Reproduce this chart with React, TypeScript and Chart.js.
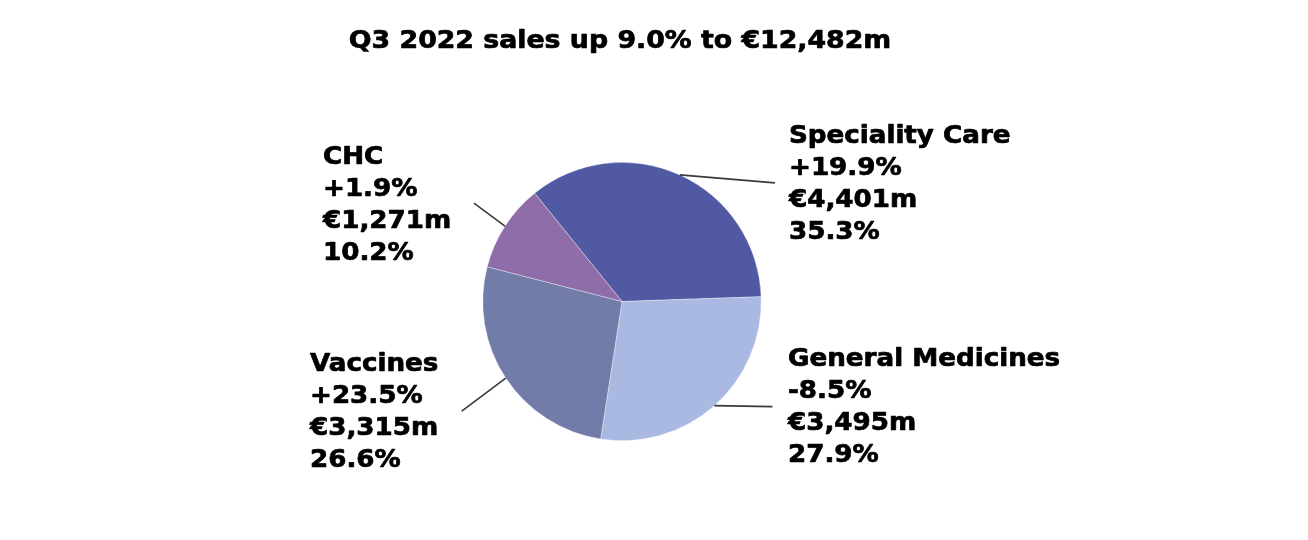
import React, { useEffect, useRef } from "react";
import { Chart, registerables } from "chart.js";

Chart.register(...registerables);

const chartTitle = "Q3 2022 sales up 9.0% to €12,482m";
const categories = ["Speciality Care", "General Medicines", "Vaccines", "CHC"];
const salesMillions = [4401, 3495, 3315, 1271];
const growthLabels = ["+19.9%", "-8.5%", "+23.5%", "+1.9%"];
const salesLabels = ["€4,401m", "€3,495m", "€3,315m", "€1,271m"];
const shareLabels = ["35.3%", "27.9%", "26.6%", "10.2%"];
const sliceColors = ["#5059A2", "#AAB9E1", "#717DA8", "#8F6DA9"];

// label placement (style only): leader-line end offset from slice edge, text anchor
const leaderOffsets = [
  [95, 8],
  [58, 1],
  [-44, 33],
  [-31, -23],
];
const textAnchors = [
  [789, 143],
  [788, 366],
  [310, 371],
  [323, 164],
];

const FONT = '"DejaVu Sans", Verdana, sans-serif';

function wideText(ctx: CanvasRenderingContext2D, t: string, x: number, y: number, sx: number) {
  ctx.save();
  ctx.translate(x, y);
  ctx.scale(sx, 1);
  ctx.lineWidth = 0.7;
  ctx.strokeStyle = "#000";
  ctx.lineJoin = "round";
  ctx.strokeText(t, 0, 0);
  ctx.fillText(t, 0, 0);
  ctx.restore();
}

const labelPlugin = {
  id: "pieLabels",
  afterDraw(chart: any) {
    const ctx = chart.ctx as CanvasRenderingContext2D;
    ctx.save();
    // title
    ctx.fillStyle = "#000";
    ctx.font = `bold 24px ${FONT}`;
    ctx.textAlign = "center";
    ctx.textBaseline = "alphabetic";
    wideText(ctx, chartTitle, 620, 48, 1.115);

    const meta = chart.getDatasetMeta(0);
    meta.data.forEach((arc: any, i: number) => {
      const mid = (arc.startAngle + arc.endAngle) / 2;
      const r = arc.outerRadius;
      const sx = arc.x + Math.cos(mid) * r;
      const sy = arc.y + Math.sin(mid) * r;
      ctx.strokeStyle = "#3a3a3a";
      ctx.lineWidth = 1.6;
      ctx.beginPath();
      ctx.moveTo(sx, sy);
      ctx.lineTo(sx + leaderOffsets[i][0], sy + leaderOffsets[i][1]);
      ctx.stroke();

      ctx.font = `bold 24px ${FONT}`;
      ctx.textAlign = "left";
      ctx.fillStyle = "#000";
      const lines = [categories[i], growthLabels[i], salesLabels[i], shareLabels[i]];
      lines.forEach((t, k) => {
        wideText(ctx, t, textAnchors[i][0], textAnchors[i][1] + k * 32, 1.09);
      });
    });
    ctx.restore();
  },
};

export default function App() {
  const canvasRef = useRef<HTMLCanvasElement | null>(null);
  useEffect(() => {
    document.body.style.margin = "0";
    const canvas = canvasRef.current!;
    const chart = new Chart(canvas, {
      type: "pie",
      data: {
        labels: categories,
        datasets: [
          {
            data: salesMillions,
            backgroundColor: sliceColors,
            borderColor: "rgba(255,255,255,0.6)",
            borderWidth: 0.6,
          },
        ],
      },
      options: {
        responsive: false,
        animation: false,
        devicePixelRatio: 1,
        rotation: -38.9,
        layout: {
          padding: { left: 482, right: 546, top: 162, bottom: 99 },
        },
        plugins: {
          legend: { display: false },
          tooltip: { enabled: false },
          title: { display: false },
        },
      },
      plugins: [labelPlugin],
    });
    return () => chart.destroy();
  }, []);
  return (
    <div style={{ position: "absolute", left: 0, top: 0, width: 1308, height: 540, background: "#fff" }}>
      <canvas ref={canvasRef} width={1308} height={540} />
    </div>
  );
}
